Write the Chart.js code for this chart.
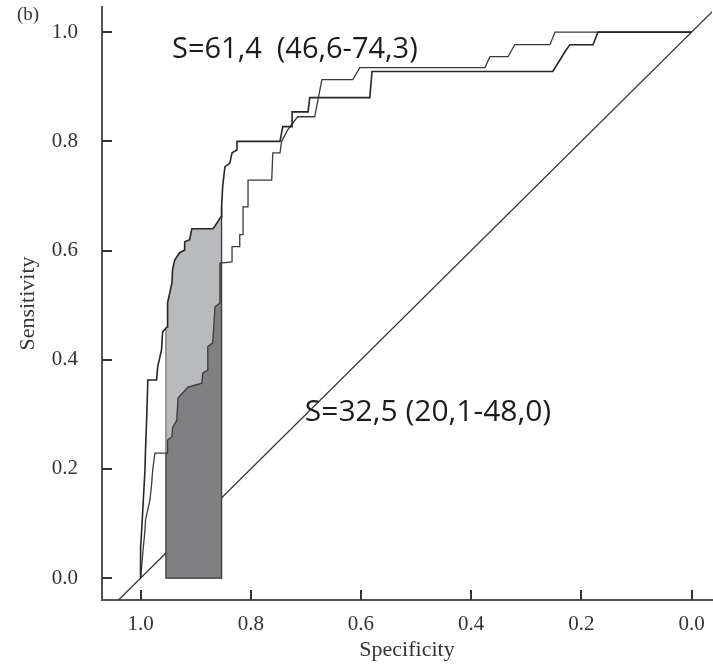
<!DOCTYPE html>
<html>
<head>
<meta charset="utf-8">
<script src="https://cdn.jsdelivr.net/npm/chart.js@4.4.1/dist/chart.umd.min.js"></script>
<style>
  html, body { margin: 0; padding: 0; background: #ffffff; }
  #wrap { width: 713px; height: 664px; position: relative; }
</style>
</head>
<body>
<div id="wrap"><canvas id="roc" width="713" height="664"></canvas></div>
<script>
// ROC curve of the first marker (specificity, sensitivity vertices)
const SPEC_A = [1.000, 1.000, 0.998, 0.996, 0.994, 0.992, 0.991, 0.989, 0.987, 0.987, 0.971, 0.969, 0.962, 0.960, 0.952, 0.951, 0.943, 0.942, 0.938, 0.929, 0.920, 0.920, 0.911, 0.907, 0.869, 0.865, 0.854, 0.853, 0.851, 0.847, 0.838, 0.834, 0.825, 0.825, 0.747, 0.742, 0.725, 0.725, 0.696, 0.693, 0.584, 0.580, 0.252, 0.239, 0.230, 0.221, 0.179, 0.170, 0.000];
const SENS_A = [0.000, 0.055, 0.088, 0.125, 0.162, 0.198, 0.235, 0.290, 0.357, 0.363, 0.363, 0.387, 0.418, 0.451, 0.460, 0.504, 0.541, 0.565, 0.583, 0.596, 0.601, 0.616, 0.620, 0.640, 0.640, 0.645, 0.662, 0.680, 0.717, 0.753, 0.760, 0.779, 0.784, 0.800, 0.800, 0.827, 0.827, 0.854, 0.854, 0.880, 0.880, 0.928, 0.928, 0.949, 0.964, 0.977, 0.977, 1.000, 1.000];

// ROC curve of the second marker
const SPEC_B = [1.000, 0.998, 0.996, 0.992, 0.991, 0.987, 0.983, 0.980, 0.978, 0.974, 0.951, 0.951, 0.943, 0.942, 0.934, 0.934, 0.932, 0.914, 0.889, 0.887, 0.878, 0.878, 0.869, 0.865, 0.856, 0.856, 0.834, 0.834, 0.820, 0.820, 0.814, 0.814, 0.805, 0.805, 0.762, 0.760, 0.747, 0.744, 0.733, 0.715, 0.684, 0.671, 0.615, 0.602, 0.375, 0.366, 0.333, 0.321, 0.257, 0.248, 0.000];
const SENS_B = [0.000, 0.021, 0.046, 0.088, 0.107, 0.125, 0.143, 0.171, 0.198, 0.229, 0.229, 0.253, 0.259, 0.275, 0.290, 0.296, 0.330, 0.350, 0.357, 0.376, 0.381, 0.424, 0.431, 0.497, 0.504, 0.577, 0.579, 0.607, 0.607, 0.629, 0.629, 0.680, 0.680, 0.729, 0.729, 0.779, 0.779, 0.800, 0.821, 0.845, 0.845, 0.913, 0.913, 0.935, 0.935, 0.955, 0.955, 0.977, 0.977, 1.000, 1.000];

// chance line ends (sensitivity = 1 - specificity)
const CHANCE_SPEC = [1.1, -0.1];

// specificity range of the partial area (upper, lower)
const BAND = [0.954, 0.853];

const AXIS_TICKS = [0.0, 0.2, 0.4, 0.6, 0.8, 1.0];
const LABEL_A = 'S=61,4  (46,6-74,3)';
const LABEL_B = 'S=32,5 (20,1-48,0)';
const PANEL = '(b)';

const pts = (xs, ys) => xs.map((x, i) => ({ x, y: ys[i] }));

// sensitivity of a curve where it crosses a given specificity
function sensAt(xs, ys, s) {
  for (let i = 1; i < xs.length; i++) {
    const a = xs[i - 1], b = xs[i];
    if (a >= s && b <= s) {
      if (a === b) return ys[i - 1];
      const t = (a - s) / (a - b);
      return ys[i - 1] + t * (ys[i] - ys[i - 1]);
    }
  }
  return ys[ys.length - 1];
}

// part of a curve inside the band
function bandPart(xs, ys) {
  const [hi, lo] = BAND;
  const out = [{ x: hi, y: sensAt(xs, ys, hi) }];
  xs.forEach((x, i) => { if (x < hi && x > lo) out.push({ x, y: ys[i] }); });
  out.push({ x: lo, y: sensAt(xs, ys, lo) });
  return out;
}

const bandA = bandPart(SPEC_A, SENS_A);
const bandB = bandPart(SPEC_B, SENS_B);
// outline of the dark area plus the right edge up to the upper curve
const bandEdge = [
  { x: BAND[0], y: bandB[0].y }, { x: BAND[0], y: 0 },
  { x: BAND[1], y: 0 }, { x: BAND[1], y: bandA[bandA.length - 1].y }
];
// left edge of the light area
const bandEdgeLight = [{ x: BAND[0], y: bandA[0].y }, { x: BAND[0], y: bandB[0].y }];

const SERIF = '"Liberation Serif", "DejaVu Serif", serif';
const SANS = '"Open Sans", "Noto Sans", sans-serif';

const innerTicks = {
  id: 'innerTicks',
  afterDatasetsDraw(chart) {
    const { ctx, chartArea: a, scales: { x, y } } = chart;
    ctx.save();
    ctx.strokeStyle = '#333';
    ctx.lineWidth = 2;
    x.ticks.forEach(t => {
      const p = Math.round(x.getPixelForValue(t.value));
      ctx.beginPath(); ctx.moveTo(p, a.bottom); ctx.lineTo(p, a.bottom - 10); ctx.stroke();
    });
    y.ticks.forEach(t => {
      const p = Math.round(y.getPixelForValue(t.value));
      ctx.beginPath(); ctx.moveTo(a.left, p); ctx.lineTo(a.left + 10, p); ctx.stroke();
    });
    ctx.restore();
  }
};

const annotations = {
  id: 'annotations',
  afterDraw(chart) {
    const { ctx, scales: { x, y } } = chart;
    ctx.save();
    ctx.fillStyle = '#1c1c1c';
    ctx.textAlign = 'left';
    ctx.textBaseline = 'alphabetic';
    ctx.font = '29px ' + SANS;
    ctx.fillText(LABEL_A, x.getPixelForValue(0.943), y.getPixelForValue(0.953));
    ctx.font = '30px ' + SANS;
    ctx.fillText(LABEL_B, x.getPixelForValue(0.702), y.getPixelForValue(0.288));
    ctx.fillStyle = '#333';
    ctx.font = '19px ' + SERIF;
    ctx.textBaseline = 'middle';
    ctx.fillText(PANEL, 17, 15);
    ctx.restore();
  }
};

const lineBase = { pointRadius: 0, pointHoverRadius: 0, tension: 0, fill: false };

new Chart(document.getElementById('roc'), {
  type: 'line',
  data: {
    datasets: [
      { ...lineBase, label: 'A', data: pts(SPEC_A, SENS_A), borderColor: '#262626', borderWidth: 1.6, order: 0 },
      { ...lineBase, label: 'B', data: pts(SPEC_B, SENS_B), borderColor: '#3a3a3a', borderWidth: 1.3, order: 1 },
      { ...lineBase, label: 'edge', data: bandEdge, borderColor: '#3a3a3a', borderWidth: 1.3, order: 2 },
      { ...lineBase, label: 'edge light', data: bandEdgeLight, borderColor: '#8e8e92', borderWidth: 1, order: 3 },
      { ...lineBase, label: 'band B', data: bandB, borderColor: 'rgba(0,0,0,0)', borderWidth: 0,
        fill: 'origin', backgroundColor: '#808082', order: 4 },
      { ...lineBase, label: 'band A', data: bandA, borderColor: 'rgba(0,0,0,0)', borderWidth: 0,
        fill: 'origin', backgroundColor: '#b9babe', order: 5 },
      { ...lineBase, label: 'chance', data: CHANCE_SPEC.map(s => ({ x: s, y: 1 - s })),
        borderColor: '#333', borderWidth: 1.3, order: 6 }
    ]
  },
  options: {
    responsive: false,
    devicePixelRatio: 1,
    animation: false,
    events: [],
    layout: { padding: { top: 7, right: 1, left: 0, bottom: 0 } },
    plugins: { legend: { display: false }, tooltip: { enabled: false } },
    scales: {
      x: {
        type: 'linear', reverse: true, min: -0.037, max: 1.07,
        grid: { display: false },
        border: { display: true, color: '#555', width: 2 },
        afterBuildTicks: s => { s.ticks = AXIS_TICKS.map(v => ({ value: v })); },
        afterFit: s => { s.height = 64; s.paddingLeft = 0; s.paddingRight = 0; },
        ticks: { callback: v => Number(v).toFixed(1), font: { family: SERIF, size: 21 }, color: '#333',
                 padding: 4, maxRotation: 0, autoSkip: false },
        title: { display: true, text: 'Specificity', font: { family: SERIF, size: 22 }, color: '#333',
                 padding: { top: 0, bottom: 1 } }
      },
      y: {
        type: 'linear', min: -0.04, max: 1.046,
        grid: { display: false },
        border: { display: true, color: '#555', width: 2 },
        afterBuildTicks: s => { s.ticks = AXIS_TICKS.map(v => ({ value: v })); },
        afterFit: s => { s.width = 102; s.paddingTop = 0; s.paddingBottom = 0; },
        ticks: { callback: v => Number(v).toFixed(1), font: { family: SERIF, size: 21 }, color: '#333',
                 padding: 16, autoSkip: false },
        title: { display: true, text: 'Sensitivity', font: { family: SERIF, size: 22 }, color: '#333',
                 padding: { top: 15, bottom: 0 } }
      }
    }
  },
  plugins: [innerTicks, annotations]
});
</script>
</body>
</html>
